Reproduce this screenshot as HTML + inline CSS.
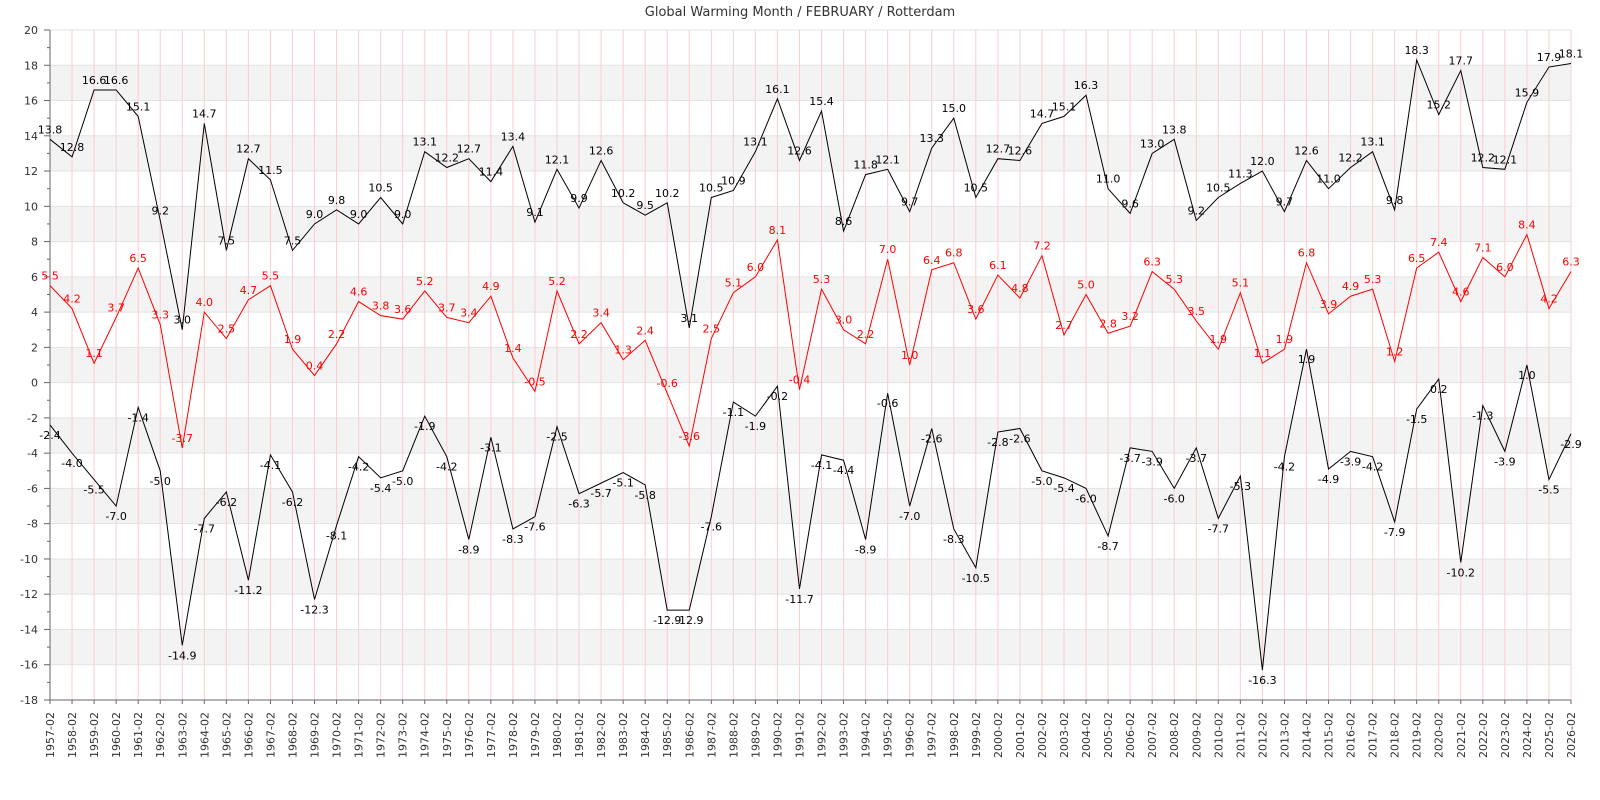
<!DOCTYPE html>
<html><head><meta charset="utf-8"><style>
body{margin:0;background:#fff;}
svg{display:block;font-family:"DejaVu Sans","Liberation Sans",sans-serif;}
</style></head><body>
<svg id="chart" width="1600" height="800" xmlns="http://www.w3.org/2000/svg">
<text x="800" y="16" text-anchor="middle" font-size="13" fill="#333">Global Warming Month / FEBRUARY / Rotterdam</text>
<g id="grid"></g><g id="axes"></g><g id="series"></g>
</svg>
<script>
const years=[];for(let y=1957;y<=2026;y++)years.push(y+"-02");
const maxVals=[13.8,12.8,16.6,16.6,15.1,9.2,3.0,14.7,7.5,12.7,11.5,7.5,9.0,9.8,9.0,10.5,9.0,13.1,12.2,12.7,11.4,13.4,9.1,12.1,9.9,12.6,10.2,9.5,10.2,3.1,10.5,10.9,13.1,16.1,12.6,15.4,8.6,11.8,12.1,9.7,13.3,15.0,10.5,12.7,12.6,14.7,15.1,16.3,11.0,9.6,13.0,13.8,9.2,10.5,11.3,12.0,9.7,12.6,11.0,12.2,13.1,9.8,18.3,15.2,17.7,12.2,12.1,15.9,17.9,18.1];
const meanVals=[5.5,4.2,1.1,3.7,6.5,3.3,-3.7,4.0,2.5,4.7,5.5,1.9,0.4,2.2,4.6,3.8,3.6,5.2,3.7,3.4,4.9,1.4,-0.5,5.2,2.2,3.4,1.3,2.4,-0.6,-3.6,2.5,5.1,6.0,8.1,-0.4,5.3,3.0,2.2,7.0,1.0,6.4,6.8,3.6,6.1,4.8,7.2,2.7,5.0,2.8,3.2,6.3,5.3,3.5,1.9,5.1,1.1,1.9,6.8,3.9,4.9,5.3,1.2,6.5,7.4,4.6,7.1,6.0,8.4,4.2,6.3];
const minVals=[-2.4,-4.0,-5.5,-7.0,-1.4,-5.0,-14.9,-7.7,-6.2,-11.2,-4.1,-6.2,-12.3,-8.1,-4.2,-5.4,-5.0,-1.9,-4.2,-8.9,-3.1,-8.3,-7.6,-2.5,-6.3,-5.7,-5.1,-5.8,-12.9,-12.9,-7.6,-1.1,-1.9,-0.2,-11.7,-4.1,-4.4,-8.9,-0.6,-7.0,-2.6,-8.3,-10.5,-2.8,-2.6,-5.0,-5.4,-6.0,-8.7,-3.7,-3.9,-6.0,-3.7,-7.7,-5.3,-16.3,-4.2,1.9,-4.9,-3.9,-4.2,-7.9,-1.5,0.2,-10.2,-1.3,-3.9,1.0,-5.5,-2.9];
const yTicks=[20,18,16,14,12,10,8,6,4,2,0,-2,-4,-6,-8,-10,-12,-14,-16,-18];

const NS="http://www.w3.org/2000/svg";
const X0=50,X1=1571,Y0=30,Y1=700,YMAX=20,YMIN=-18;
const xs=i=>X0+(X1-X0)*i/(years.length-1);
const ys=v=>Y0+(YMAX-v)*(Y1-Y0)/(YMAX-YMIN);
function mk(tag,attrs,parent){const e=document.createElementNS(NS,tag);for(const k in attrs)e.setAttribute(k,attrs[k]);parent.appendChild(e);return e;}
const grid=document.getElementById('grid'),axes=document.getElementById('axes'),series=document.getElementById('series');
for(let v=YMIN;v<YMAX;v+=2){
  if(((v%4)+4)%4===0){const r=mk('rect',{x:X0,y:ys(v+2),width:X1-X0,height:ys(v)-ys(v+2),fill:'#f3f3f3'},grid);
  
  }
}
yTicks.forEach(v=>{
  const l=mk('line',{x1:X0,x2:X1,y1:ys(v),y2:ys(v),stroke:'#e3e3e3'},grid);
  
  
  const t=mk('text',{x:38,y:ys(v)+4,'text-anchor':'end','font-size':11,fill:'#333'},axes);
  t.textContent=v;
  
  
});
for(let v=YMIN;v<=YMAX;v++){mk('line',{x1:X0-(v%2===0?6:3),x2:X0,y1:ys(v),y2:ys(v),stroke:'#666'},axes);}
years.forEach((yr,i)=>{
  const l=mk('line',{x1:xs(i),x2:xs(i),y1:Y0,y2:Y1,stroke:'#ffcccc'},grid);
  
  
  mk('line',{x1:xs(i),x2:xs(i),y1:Y1,y2:Y1+4,stroke:'#666'},axes);
  const t=mk('text',{x:0,y:0,'text-anchor':'end','font-size':11,fill:'#333',transform:`translate(${xs(i)+4},${Y1+12}) rotate(-90)`},axes);
  t.textContent=yr;
  
  
});
mk('line',{x1:X0,x2:X0,y1:Y0,y2:Y1,stroke:'#666'},axes);
mk('line',{x1:X0,x2:X1,y1:Y1,y2:Y1,stroke:'#666'},axes);
function draw(vals,color,name,below){
  const p=mk('polyline',{points:vals.map((v,i)=>xs(i)+','+ys(v)).join(' '),fill:'none',stroke:color,'stroke-width':1},series);
  
  
  vals.forEach((v,i)=>{
    const t=mk('text',{x:xs(i),y:below?ys(v)+14:ys(v)-6,'text-anchor':'middle','font-size':11,fill:color},series);
    t.textContent=v.toFixed(1);
    
    
  });
}
draw(maxVals,'#000','max-temp',false);
draw(meanVals,'#ff0000','mean-temp',false);
draw(minVals,'#000','min-temp',true);
</script>
</body></html>
